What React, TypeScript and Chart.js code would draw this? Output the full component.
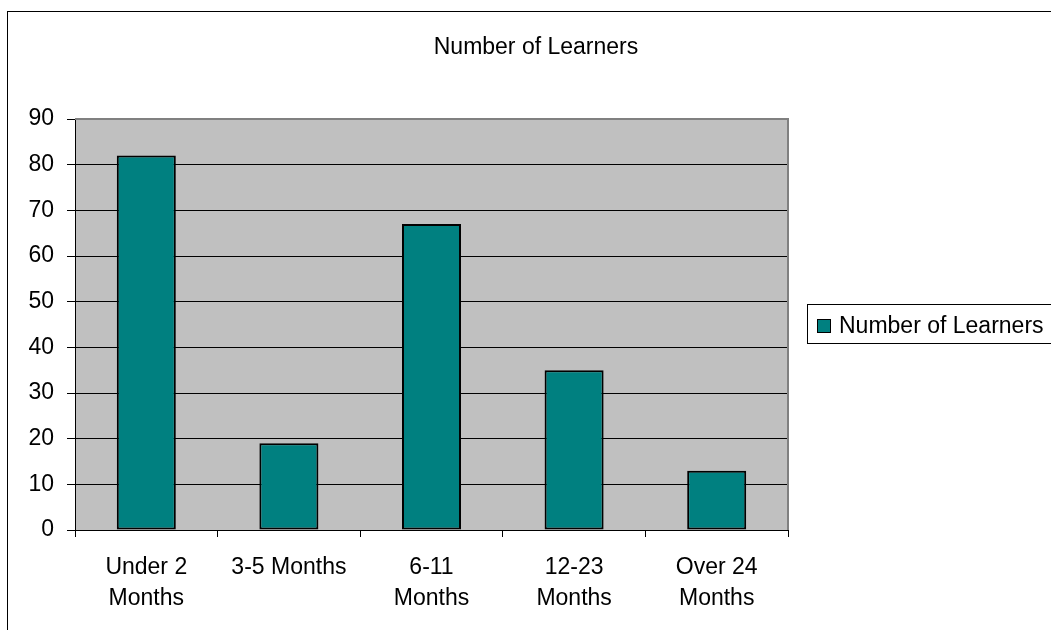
import React, { useEffect, useRef } from "react";
import { Chart, registerables } from "chart.js";

Chart.register(...registerables);

const chartTitle = "Number of Learners";
const seriesName = "Number of Learners";
const categories: (string | string[])[] = [
  ["Under 2", "Months"],
  "3-5 Months",
  ["6-11", "Months"],
  ["12-23", "Months"],
  ["Over 24", "Months"],
];
const learners = [82, 19, 67, 35, 13];
const yMin = 0;
const yMax = 90;
const yStep = 10;

const FONT = "'Liberation Sans', Arial, Helvetica, sans-serif";
const TEAL = "#008080";

const decorPlugin = {
  id: "decor",
  beforeDraw(chart: any) {
    const { ctx, chartArea } = chart;
    ctx.save();
    ctx.fillStyle = "#ffffff";
    ctx.fillRect(0, 0, chart.width, chart.height);
    ctx.fillStyle = "#C0C0C0";
    ctx.fillRect(chartArea.left, chartArea.top, chartArea.right - chartArea.left, chartArea.bottom - chartArea.top);
    // outer chart border
    ctx.strokeStyle = "#000000";
    ctx.lineWidth = 1;
    ctx.strokeRect(7.5, 11.5, 2000, 2000);
    ctx.restore();
  },
  afterDraw(chart: any) {
    const { ctx, chartArea } = chart;
    ctx.save();
    // plot area top/right border
    ctx.strokeStyle = "#808080";
    ctx.lineWidth = 2;
    ctx.beginPath();
    ctx.moveTo(chartArea.left, chartArea.top);
    ctx.lineTo(chartArea.right, chartArea.top);
    ctx.lineTo(chartArea.right, chartArea.bottom);
    ctx.stroke();
    // title
    ctx.fillStyle = "#000000";
    ctx.font = `23px ${FONT}`;
    ctx.textAlign = "center";
    ctx.textBaseline = "alphabetic";
    ctx.fillText(chartTitle, 536, 54);
    // legend
    const label = chart.data.datasets[0].label;
    ctx.strokeStyle = "#000000";
    ctx.lineWidth = 1;
    ctx.strokeRect(807.5, 304.5, 400, 39);
    ctx.fillStyle = TEAL;
    ctx.fillRect(817, 319, 14, 14);
    ctx.strokeRect(817.5, 319.5, 13, 13);
    ctx.fillStyle = "#000000";
    ctx.textAlign = "left";
    ctx.fillText(label, 839, 333);
    ctx.restore();
  },
};

export default function App() {
  const ref = useRef<HTMLCanvasElement | null>(null);
  useEffect(() => {
    if (!ref.current) return;
    const chart = new Chart(ref.current, {
      type: "bar",
      data: {
        labels: categories,
        datasets: [
          {
            label: seriesName,
            data: learners,
            backgroundColor: TEAL,
            borderColor: "#000000",
            borderWidth: 2,
            borderSkipped: false,
            categoryPercentage: 1,
            barPercentage: 0.414,
          },
        ],
      },
      options: {
        responsive: false,
        animation: false,
        layout: { padding: { top: 119, right: 263, bottom: 0, left: 0 } },
        plugins: {
          legend: { display: false },
          title: { display: false },
          tooltip: { enabled: false },
        },
        scales: {
          x: {
            afterFit: (s: any) => {
              s.height = 100;
            },
            grid: {
              display: true,
              offset: true,
              drawOnChartArea: false,
              drawTicks: true,
              tickLength: 7,
              color: "#000000",
            },
            border: { display: true, color: "#000000", width: 1 },
            ticks: {
              color: "#000000",
              font: { family: FONT, size: 23, lineHeight: 1.35 },
              padding: 15,
              maxRotation: 0,
              autoSkip: false,
            },
          },
          y: {
            min: yMin,
            max: yMax,
            afterFit: (s: any) => {
              s.width = 75;
            },
            grid: {
              color: (c: any) => (c.tick && c.tick.value === yMax ? "#808080" : "#000000"),
              tickColor: "#000000",
              tickLength: 8,
              drawTicks: true,
            },
            border: { display: true, color: "#000000", width: 1 },
            ticks: {
              stepSize: yStep,
              color: "#000000",
              font: { family: FONT, size: 23 },
              padding: 13,
            },
          },
        },
      },
      plugins: [decorPlugin],
    });
    return () => chart.destroy();
  }, []);
  return (
    <div style={{ position: "fixed", left: 0, top: 0, width: 1051, height: 630, overflow: "hidden" }}>
      <canvas ref={ref} width={1051} height={630} style={{ display: "block" }} />
    </div>
  );
}
